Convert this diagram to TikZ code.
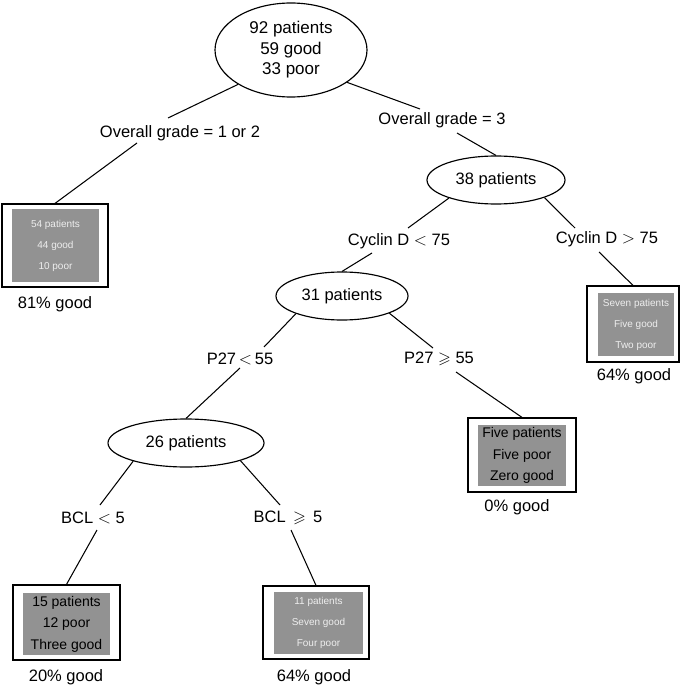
\documentclass[tikz,border=0pt]{standalone}
\usepackage{fontspec}
\usepackage{amssymb}
\setmainfont{Liberation Sans}
\usetikzlibrary{calc,shapes.geometric}
\definecolor{boxgray}{RGB}{146,146,146}
\definecolor{lighttext}{RGB}{238,238,238}
\begin{document}
\begin{tikzpicture}[x=1pt,y=-1pt,
  ell/.style={draw,ellipse,line width=1.15pt,inner sep=0pt,align=center,font=\fontsize{16.5}{20}\selectfont},
  cond/.style={inner sep=0pt,font=\fontsize{16.5}{20}\selectfont},
  conn/.style={line width=1.05pt},
  outerbox/.style={draw,line width=1.2pt,inner sep=0pt},
  gbox/.style={fill=boxgray,inner sep=0pt,align=center},
  wtext/.style={gbox,text=lighttext,font=\fontsize{10}{21}\selectfont},
  btext/.style={gbox,text=black,font=\fontsize{14}{21.5}\selectfont},
  pct/.style={inner sep=0pt,font=\fontsize{16.5}{20}\selectfont}]
\useasboundingbox (0,0) rectangle (685,687);

% ellipses
\node[ell,minimum width=152,minimum height=94,font=\fontsize{17}{20.5}\selectfont] (root) at (291,50) {92 patients\\59 good\\33 poor};
\node[ell,minimum width=138,minimum height=48] (n38) at (496,180) {38 patients};
\node[ell,minimum width=132,minimum height=48] (n31) at (342,296) {31 patients};
\node[ell,minimum width=156,minimum height=48] (n26) at (186,443) {26 patients};

% condition labels
\node[cond] (og12) at (180,133) {Overall grade = 1 or 2};
\node[cond] (og3) at (442,120) {Overall grade = 3};
\node[cond] (cycl) at (399,241) {Cyclin D $<$ 75};
\node[cond] (cycr) at (607,239) {Cyclin D $>$ 75};
\node[cond] (p27l) at (240,359) {P27\,$<$\,55};
\node[cond] (p27r) at (439,359) {P27 $\geqslant$ 55};
\node[cond] (bcll) at (93,518) {BCL $<$ 5};
\node[cond] (bclr) at (288,518) {BCL \,$\geqslant$\, 5};

% leaf boxes
\node[outerbox,minimum width=106,minimum height=83] (leaf1) at (55,245.5) {};
\node[wtext,minimum width=87,minimum height=73] (g1) at (55.5,245.5) {54 patients\\44 good\\10 poor};
\node[outerbox,minimum width=92,minimum height=76] (leafR) at (633,324) {};
\node[wtext,minimum width=76,minimum height=63] (gR) at (636,324.5) {Seven patients\\Five good\\Two poor};
\node[outerbox,minimum width=108,minimum height=74] (leaf0) at (522,455) {};
\node[btext,minimum width=88,minimum height=61] (g0) at (522,455.5) {Five patients\\Five poor\\Zero good};
\node[outerbox,minimum width=107,minimum height=75] (leaf20) at (66.5,622.5) {};
\node[btext,minimum width=87,minimum height=62] (g20) at (66.5,624) {15 patients\\12 poor\\Three good};
\node[outerbox,minimum width=106,minimum height=73] (leaf64) at (316,622.5) {};
\node[wtext,minimum width=89,minimum height=62] (g64) at (318.5,623) {11 patients\\Seven good\\Four poor};

% percentages
\node[pct] (p1) at (55,304) {81\% good};
\node[pct] (pR) at (634,376) {64\% good};
\node[pct] (p0) at (517,507) {0\% good};
\node[pct] (p20) at (66,677) {20\% good};
\node[pct] (p64) at (314,677) {64\% good};

% connectors
\draw[conn] (root.213) -- ($(og12)+(-12,-15)$);
\draw[conn] ($(og12)+(-43,10)$) -- (leaf1.north);
\draw[conn] (root.330) -- ($(og3)+(-22,-11)$);
\draw[conn] ($(og3)+(15,13)$) -- (n38.north);
\draw[conn] (n38.201) -- ($(cycl)+(9,-13)$);
\draw[conn] ($(cycl)+(-27,12)$) -- (n31.north);
\draw[conn] (n38.340) -- ($(cycr)+(-32,-11)$);
\draw[conn] ($(cycr)+(-8,13)$) -- (leafR.north);
\draw[conn] (n31.201) -- ($(p27l)+(24,-12)$);
\draw[conn] ($(p27l)+(0,9)$) -- (n26.north);
\draw[conn] (n31.340) -- ($(p27r)+(-6,-11)$);
\draw[conn] ($(p27r)+(17,13)$) -- (leaf0.north);
\draw[conn] (n26.199) -- ($(bcll)+(7,-13)$);
\draw[conn] ($(bcll)+(4,12)$) -- (leaf20.north);
\draw[conn] (n26.342) -- ($(bclr)+(-8,-13)$);
\draw[conn] ($(bclr)+(3,12)$) -- (leaf64.north);
\end{tikzpicture}
\end{document}
